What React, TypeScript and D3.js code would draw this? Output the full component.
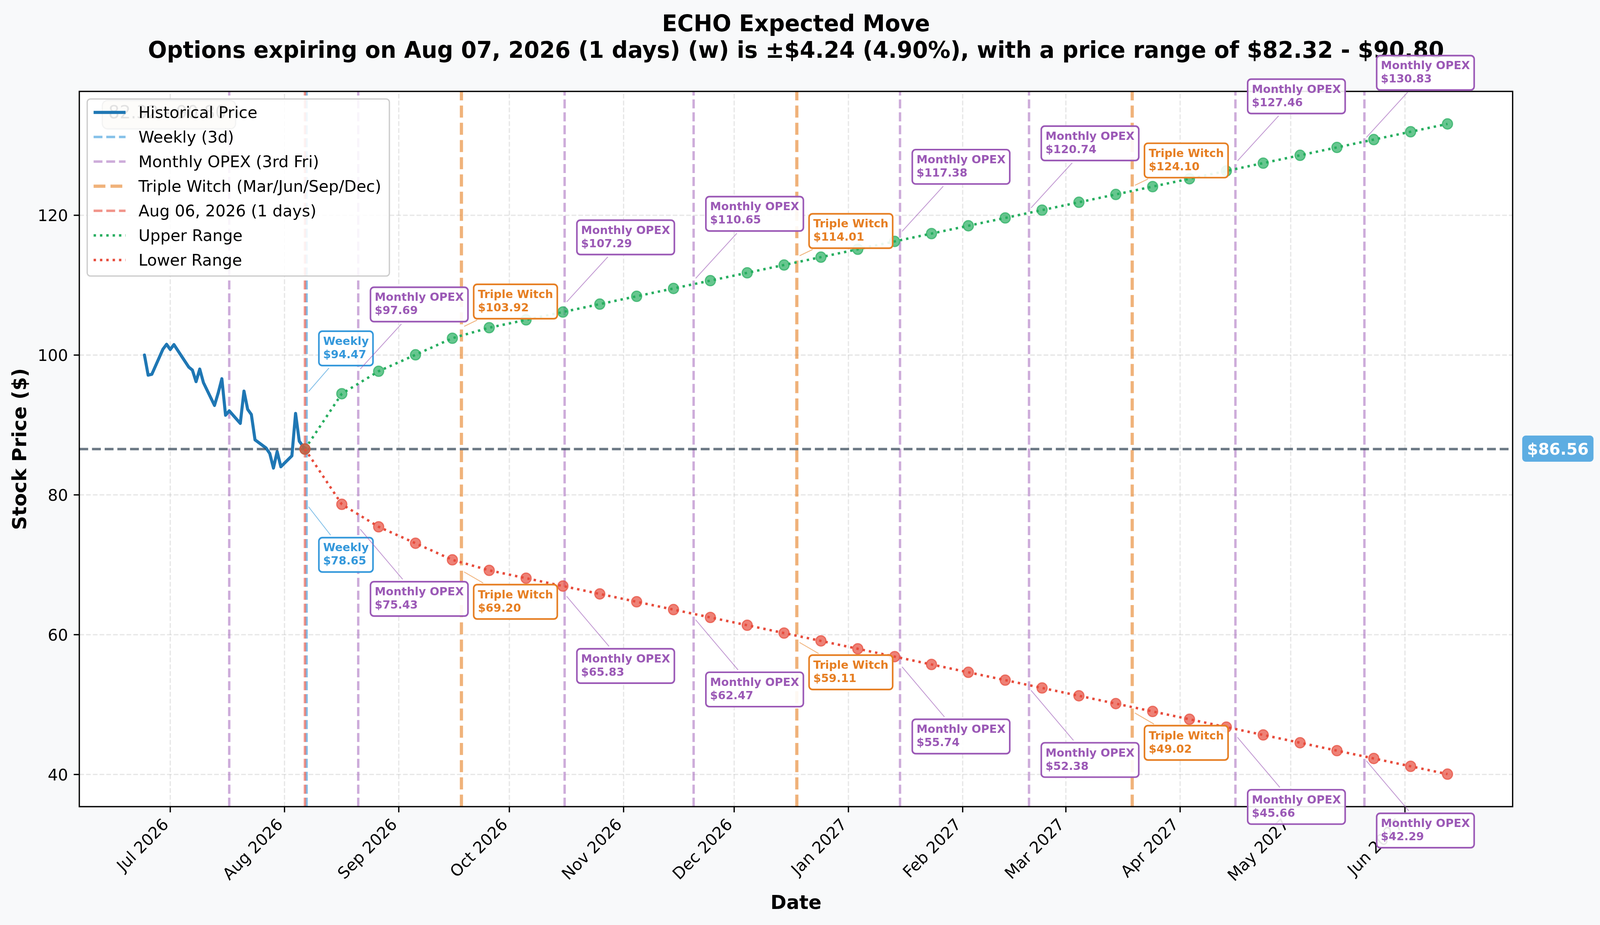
import React, { useEffect, useRef } from 'react';
import * as d3 from 'd3';

const W = 4176;
const H = 2368;
const FONT = '"DejaVu Sans", Verdana, sans-serif';

// ---- data ----
const TICKER = 'ECHO';
const CURRENT_PRICE = 86.56;
const NOW = new Date(2026, 7, 6, 13, 0); // Aug 06, 2026 (current time)

const histDates = ['2026-06-24', '2026-06-25', '2026-06-26', '2026-06-29', '2026-06-30', '2026-07-01', '2026-07-02', '2026-07-06', '2026-07-07', '2026-07-08', '2026-07-09', '2026-07-10', '2026-07-13', '2026-07-14', '2026-07-15', '2026-07-16', '2026-07-17', '2026-07-20', '2026-07-21', '2026-07-22', '2026-07-23', '2026-07-24', '2026-07-27', '2026-07-28', '2026-07-29', '2026-07-30', '2026-07-31', '2026-08-03', '2026-08-04', '2026-08-05'];
const histPrices = [100.0, 97.13, 97.25, 100.83, 101.54, 100.8, 101.5, 98.29, 97.86, 96.2, 98.0, 96.06, 92.8, 94.57, 96.61, 91.4, 92.02, 90.23, 94.85, 92.24, 91.5, 87.87, 86.7, 85.92, 83.84, 86.2, 84.03, 85.59, 91.65, 87.69];

// projected range points: days after now
const rangeDayOffsets = [10, 20, 30, 40, 50, 60, 70, 80, 90, 100, 110, 120, 130, 140, 150, 160, 170, 180, 190, 200, 210, 220, 230, 240, 250, 260, 270, 280, 290, 300, 310];
const upperRange = [94.47, 97.69, 100.04, 102.41, 103.92, 105.04, 106.16, 107.29, 108.41, 109.53, 110.65, 111.77, 112.89, 114.01, 115.14, 116.26, 117.38, 118.5, 119.62, 120.74, 121.86, 122.98, 124.1, 125.22, 126.34, 127.46, 128.58, 129.71, 130.83, 131.95, 133.07];
const lowerRange = [78.65, 75.43, 73.08, 70.71, 69.2, 68.08, 66.96, 65.83, 64.71, 63.59, 62.47, 61.35, 60.23, 59.11, 57.98, 56.86, 55.74, 54.62, 53.5, 52.38, 51.26, 50.14, 49.02, 47.9, 46.78, 45.66, 44.54, 43.41, 42.29, 41.17, 40.05];

// expiries annotated
const expiryDates = ['2026-08-07', '2026-08-21', '2026-09-18', '2026-10-16', '2026-11-20', '2026-12-18', '2027-01-15', '2027-02-19', '2027-03-19', '2027-04-16', '2027-05-21'];
const expiryKinds = ['Weekly', 'Monthly OPEX', 'Triple Witch', 'Monthly OPEX', 'Monthly OPEX', 'Triple Witch', 'Monthly OPEX', 'Monthly OPEX', 'Triple Witch', 'Monthly OPEX', 'Monthly OPEX'];
const expiryUpper = [94.47, 97.69, 103.92, 107.29, 110.65, 114.01, 117.38, 120.74, 124.1, 127.46, 130.83];
const expiryLower = [78.65, 75.43, 69.2, 65.83, 62.47, 59.11, 55.74, 52.38, 49.02, 45.66, 42.29];

// vertical reference lines
const weeklyLineDates = ['2026-08-07'];
const monthlyLineDates = ['2026-07-17', '2026-08-21', '2026-10-16', '2026-11-20', '2027-01-15', '2027-02-19', '2027-04-16', '2027-05-21'];
const tripleWitchLineDates = ['2026-09-18', '2026-12-18', '2027-03-19'];

const yTickValues = [40, 60, 80, 100, 120];

const legendLabels = ['Historical Price', 'Weekly (3d)', 'Monthly OPEX (3rd Fri)', 'Triple Witch (Mar/Jun/Sep/Dec)', 'Aug 06, 2026 (1 days)', 'Upper Range', 'Lower Range'];

const titleLine1 = `${TICKER} Expected Move`;
const titleLine2 = 'Options expiring on Aug 07, 2026 (1 days) (w) is \u00b1$4.24 (4.90%), with a price range of $82.32 - $90.80';
const faintRangeText = '82.32 - 90.80';

// ---- styles ----
const C = {
  hist: '#1f77b4',
  weekly: '#3498db',
  monthly: '#9b59b6',
  triple: '#e67e22',
  now: '#e74c3c',
  upper: '#27ae60',
  lower: '#e74c3c',
  hline: '#2c3e50',
  priceTag: '#5dade2',
};
const kindColor: Record<string, string> = {
  'Weekly': C.weekly,
  'Monthly OPEX': C.monthly,
  'Triple Witch': C.triple,
};
const kindOffset: Record<string, number> = {
  'Weekly': 116,
  'Monthly OPEX': 171,
  'Triple Witch': 67,
};

const PLOT = { left: 207, right: 3948, top: 234, bottom: 2065 };

function draw(svgEl: SVGSVGElement) {
  const svg = d3.select(svgEl);
  svg.selectAll('*').remove();
  const parse = d3.timeParse('%Y-%m-%d');

  const hist = histDates.map((d, i) => ({ date: parse(d) as Date, value: histPrices[i] }));
  hist.push({ date: NOW, value: CURRENT_PRICE });
  const rangeDates = rangeDayOffsets.map((o) => d3.timeDay.offset(NOW, o));
  const upper = [{ date: NOW, value: CURRENT_PRICE }, ...rangeDates.map((d, i) => ({ date: d, value: upperRange[i] }))];
  const lower = [{ date: NOW, value: CURRENT_PRICE }, ...rangeDates.map((d, i) => ({ date: d, value: lowerRange[i] }))];

  const xMin = +hist[0].date;
  const xMax = +rangeDates[rangeDates.length - 1];
  const xPad = (xMax - xMin) * 0.05;
  const x = d3.scaleTime().domain([new Date(xMin - xPad), new Date(xMax + xPad)]).range([PLOT.left, PLOT.right]);
  const allVals = [...histPrices, ...upperRange, ...lowerRange, CURRENT_PRICE];
  const yMin = d3.min(allVals) as number;
  const yMax = d3.max(allVals) as number;
  const yPad = (yMax - yMin) * 0.05;
  const y = d3.scaleLinear().domain([yMin - yPad, yMax + yPad]).range([PLOT.bottom, PLOT.top]);

  // background
  svg.append('rect').attr('x', 0).attr('y', 0).attr('width', W).attr('height', H).attr('fill', '#f8f9fa');
  svg.append('rect').attr('x', PLOT.left).attr('y', PLOT.top).attr('width', PLOT.right - PLOT.left).attr('height', PLOT.bottom - PLOT.top).attr('fill', '#ffffff');

  const defs = svg.append('defs');
  defs.append('clipPath').attr('id', 'plotclip').append('rect')
    .attr('x', PLOT.left).attr('y', PLOT.top).attr('width', PLOT.right - PLOT.left).attr('height', PLOT.bottom - PLOT.top);

  const plot = svg.append('g').attr('clip-path', 'url(#plotclip)');

  // grid
  const xTicks = x.ticks(d3.timeMonth.every(1) as d3.TimeInterval);
  const grid = plot.append('g');
  xTicks.forEach((t) => {
    grid.append('line').attr('x1', x(t)).attr('x2', x(t)).attr('y1', PLOT.bottom).attr('y2', PLOT.top)
      .attr('stroke', '#b0b0b0').attr('stroke-opacity', 0.3).attr('stroke-width', 3.3).attr('stroke-dasharray', '12.3,5.3');
  });
  yTickValues.forEach((v) => {
    grid.append('line').attr('x1', PLOT.left).attr('x2', PLOT.right).attr('y1', y(v)).attr('y2', y(v))
      .attr('stroke', '#b0b0b0').attr('stroke-opacity', 0.3).attr('stroke-width', 3.3).attr('stroke-dasharray', '12.3,5.3');
  });

  // vertical lines
  const vline = (d: Date, color: string, op: number, w: number) => {
    plot.append('line').attr('x1', x(d)).attr('x2', x(d)).attr('y1', PLOT.bottom).attr('y2', PLOT.top)
      .attr('stroke', color).attr('stroke-opacity', op).attr('stroke-width', w)
      .attr('stroke-dasharray', `${(3.7 * w).toFixed(1)},${(1.6 * w).toFixed(1)}`);
  };
  weeklyLineDates.forEach((d) => vline(parse(d) as Date, C.weekly, 0.6, 6.25));
  monthlyLineDates.forEach((d) => vline(parse(d) as Date, C.monthly, 0.5, 6.25));
  tripleWitchLineDates.forEach((d) => vline(parse(d) as Date, C.triple, 0.6, 8.33));
  vline(NOW, C.now, 0.6, 6.25);

  // historical line
  const lineGen = d3.line<{ date: Date; value: number }>().x((d) => x(d.date)).y((d) => y(d.value));
  plot.append('path').attr('d', lineGen(hist) as string).attr('fill', 'none').attr('stroke', C.hist)
    .attr('stroke-width', 8).attr('stroke-linejoin', 'round').attr('stroke-linecap', 'round');

  // current price horizontal line
  plot.append('line').attr('x1', PLOT.left).attr('x2', PLOT.right).attr('y1', y(CURRENT_PRICE)).attr('y2', y(CURRENT_PRICE))
    .attr('stroke', C.hline).attr('stroke-opacity', 0.7).attr('stroke-width', 6.25).attr('stroke-dasharray', '23.1,10');

  // range lines
  const drawRange = (data: { date: Date; value: number }[], color: string) => {
    plot.append('path').attr('d', lineGen(data) as string).attr('fill', 'none').attr('stroke', color)
      .attr('stroke-width', 6.25).attr('stroke-dasharray', '6.25,10.3');
    data.forEach((p) => {
      plot.append('circle').attr('cx', x(p.date)).attr('cy', y(p.value)).attr('r', 13.2)
        .attr('fill', color).attr('fill-opacity', 0.7).attr('stroke', color).attr('stroke-opacity', 0.7).attr('stroke-width', 3);
    });
  };
  drawRange(upper, C.upper);
  drawRange(lower, C.lower);

  // spines
  svg.append('rect').attr('x', PLOT.left).attr('y', PLOT.top).attr('width', PLOT.right - PLOT.left).attr('height', PLOT.bottom - PLOT.top)
    .attr('fill', 'none').attr('stroke', '#000').attr('stroke-width', 3.33);

  // x ticks
  const fmt = d3.timeFormat('%b %Y');
  xTicks.forEach((t) => {
    const tx = x(t);
    svg.append('line').attr('x1', tx).attr('x2', tx).attr('y1', PLOT.bottom).attr('y2', PLOT.bottom + 14.6)
      .attr('stroke', '#000').attr('stroke-width', 3.33);
    svg.append('text').attr('transform', `translate(${tx - 2},${2113}) rotate(-45)`)
      .attr('text-anchor', 'end').attr('font-family', FONT).attr('font-size', 41.7).attr('fill', '#000')
      .text(fmt(t));
  });
  // y ticks
  yTickValues.forEach((v) => {
    const ty = y(v);
    svg.append('line').attr('x1', PLOT.left - 14.6).attr('x2', PLOT.left).attr('y1', ty).attr('y2', ty)
      .attr('stroke', '#000').attr('stroke-width', 3.33);
    svg.append('text').attr('x', PLOT.left - 14.6 - 14.6).attr('y', ty + 15.2).attr('text-anchor', 'end')
      .attr('font-family', FONT).attr('font-size', 41.7).attr('fill', '#000').text(String(v));
  });

  // axis labels
  svg.append('text').attr('x', (PLOT.left + PLOT.right) / 2).attr('y', 2327).attr('text-anchor', 'middle')
    .attr('font-family', FONT).attr('font-size', 50).attr('font-weight', 'bold').attr('fill', '#000').text('Date');
  svg.append('text').attr('transform', `translate(${68},${(PLOT.top + PLOT.bottom) / 2}) rotate(-90)`).attr('text-anchor', 'middle')
    .attr('font-family', FONT).attr('font-size', 50).attr('font-weight', 'bold').attr('fill', '#000').text('Stock Price ($)');

  // title
  svg.append('text').attr('x', (PLOT.left + PLOT.right) / 2).attr('y', 80).attr('text-anchor', 'middle')
    .attr('font-family', FONT).attr('font-size', 58.3).attr('font-weight', 'bold').attr('fill', '#000').text(titleLine1);
  svg.append('text').attr('x', (PLOT.left + PLOT.right) / 2).attr('y', 148).attr('text-anchor', 'middle')
    .attr('font-family', FONT).attr('font-size', 58.3).attr('font-weight', 'bold').attr('fill', '#000').text(titleLine2);

  // faint range box (under legend)
  svg.append('rect').attr('x', 267).attr('y', 257).attr('width', 348).attr('height', 73).attr('rx', 14)
    .attr('fill', '#efe6d6').attr('stroke', '#999').attr('stroke-width', 3.3);
  svg.append('text').attr('x', 283).attr('y', 303).attr('font-family', FONT).attr('font-size', 45.8).attr('fill', '#111')
    .text(faintRangeText);

  // annotations
  expiryDates.forEach((ds, i) => {
    const kind = expiryKinds[i];
    const color = kindColor[kind];
    const ax = x(parse(ds) as Date);
    (['upper', 'lower'] as const).forEach((side) => {
      const val = side === 'upper' ? expiryUpper[i] : expiryLower[i];
      const ay = y(val);
      const k = kindOffset[kind];
      const cy = side === 'upper' ? ay - k : ay + k + 13.4;
      const g = svg.append('g');
      const conn = g.append('line');
      const rect = g.append('rect');
      const textX = ax + 43;
      const boxY0 = cy - 44;
      const b1 = boxY0 + 35;
      const t1 = g.append('text').attr('x', textX).attr('y', b1).attr('font-family', FONT).attr('font-size', 29.2)
        .attr('font-weight', 'bold').attr('fill', color).text(kind);
      const t2 = g.append('text').attr('x', textX).attr('y', b1 + 34).attr('font-family', FONT).attr('font-size', 29.2)
        .attr('font-weight', 'bold').attr('fill', color).text(`$${val.toFixed(2)}`);
      const w = Math.max((t1.node() as SVGTextElement).getComputedTextLength(), (t2.node() as SVGTextElement).getComputedTextLength());
      const bx0 = textX - 11;
      const bw = w + 22;
      const bh = 88;
      rect.attr('x', bx0).attr('y', boxY0).attr('width', bw).attr('height', bh).attr('rx', 9)
        .attr('fill', '#fff').attr('fill-opacity', 0.9).attr('stroke', color).attr('stroke-width', 4.17);
      // connector from anchor to box centre, clipped to box edge
      const cx = bx0 + bw / 2;
      const dx = cx - ax;
      const dy = cy - ay;
      const len = Math.hypot(dx, dy);
      const tx = dx > 0 ? (bx0 - ax) / dx : (bx0 + bw - ax) / dx;
      const tyv = dy > 0 ? (boxY0 - ay) / dy : (boxY0 + bh - ay) / dy;
      const tEnter = Math.max(tx, tyv);
      const ux = dx / len;
      const uy = dy / len;
      const endD = tEnter * len - 8;
      conn.attr('x1', ax + ux * 8).attr('y1', ay + uy * 8).attr('x2', ax + ux * endD).attr('y2', ay + uy * endD)
        .attr('stroke', color).attr('stroke-opacity', 0.6).attr('stroke-width', 2.2);
    });
  });

  // legend
  const lg = svg.append('g');
  lg.append('rect').attr('x', 227.6).attr('y', 253.3).attr('width', 1016.3 - 227.6).attr('height', 706.7 - 253.3).attr('rx', 8.3)
    .attr('fill', '#fff').attr('fill-opacity', 0.88).attr('stroke', '#cccccc').attr('stroke-width', 3.3);
  const handles = [
    { color: C.hist, op: 1, w: 8, dash: null as string | null },
    { color: C.weekly, op: 0.6, w: 6.25, dash: '23.1,10' },
    { color: C.monthly, op: 0.5, w: 6.25, dash: '23.1,10' },
    { color: C.triple, op: 0.6, w: 8.33, dash: '30.8,13.3' },
    { color: C.now, op: 0.6, w: 6.25, dash: '23.1,10' },
    { color: C.upper, op: 1, w: 6.25, dash: '6.25,10.3' },
    { color: C.lower, op: 1, w: 6.25, dash: '6.25,10.3' },
  ];
  legendLabels.forEach((lab, i) => {
    const base = 301.7 + 63 * i;
    const hy = base - 14;
    const h = handles[i];
    const ln = lg.append('line').attr('x1', 244.3).attr('x2', 327.7).attr('y1', hy).attr('y2', hy)
      .attr('stroke', h.color).attr('stroke-opacity', h.op).attr('stroke-width', h.w);
    if (h.dash) ln.attr('stroke-dasharray', h.dash);
    lg.append('text').attr('x', 361.5).attr('y', base).attr('font-family', FONT).attr('font-size', 41.7).attr('fill', '#000').text(lab);
  });

  // current price tag on right
  const tag = svg.append('g');
  tag.append('rect').attr('x', 3973).attr('y', 1115).attr('width', 186).attr('height', 67).attr('rx', 9).attr('fill', C.priceTag);
  tag.append('text').attr('x', 4066).attr('y', y(CURRENT_PRICE) + 15).attr('text-anchor', 'middle').attr('font-family', FONT)
    .attr('font-size', 41.7).attr('font-weight', 'bold').attr('fill', '#fff').text(`$${CURRENT_PRICE.toFixed(2)}`);
}

export default function App() {
  const ref = useRef<SVGSVGElement>(null);
  useEffect(() => {
    document.body.style.margin = '0';
    document.body.style.overflow = 'hidden';
    if (ref.current) draw(ref.current);
  }, []);
  return (
    <svg ref={ref} viewBox={`0 0 ${W} ${H}`} preserveAspectRatio="none"
      style={{ position: 'fixed', left: 0, top: 0, width: '100vw', height: '100vh', display: 'block' }} />
  );
}
